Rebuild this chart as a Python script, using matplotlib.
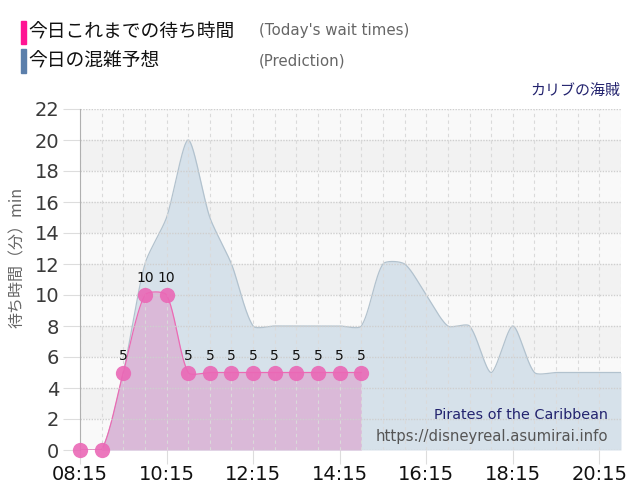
import numpy as np
import matplotlib
matplotlib.use("Agg")
import matplotlib.pyplot as plt

# ---------------- data ----------------
times = ["08:15", "08:45", "09:15", "09:45", "10:15", "10:45", "11:15", "11:45",
         "12:15", "12:45", "13:15", "13:45", "14:15", "14:45", "15:15", "15:45",
         "16:15", "16:45", "17:15", "17:45", "18:15", "18:45", "19:15", "19:45",
         "20:15", "20:45"]
predicted = [0, 0, 5, 12, 15, 20, 15, 12, 8, 8, 8, 8, 8, 8, 12, 12,
             10, 8, 8, 5, 8, 5, 5, 5, 5, 5]
actual = [0, 0, 5, 10, 10, 5, 5, 5, 5, 5, 5, 5, 5, 5]
tick_labels = ["08:15", "10:15", "12:15", "14:15", "16:15", "18:15", "20:15"]
y_ticks = [0, 2, 4, 6, 8, 10, 12, 14, 16, 18, 20, 22]

legend_jp = ["今日これまでの待ち時間", "今日の混雑予想"]
legend_en = ["(Today's wait times)", "(Prediction)"]
attraction_jp = "カリブの海賊"
attraction_en = "Pirates of the Caribbean"
site_url = "https://disneyreal.asumirai.info"
y_label = "待ち時間（分）min"


def to_hours(s):
    h, m = s.split(":")
    return int(h) + int(m) / 60.0


x_all = np.array([to_hours(t) for t in times])
x_act = x_all[:len(actual)]
x_ticks = [to_hours(t) for t in tick_labels]

JP = ["Noto Sans CJK JP", "DejaVu Sans"]
plt.rcParams["font.family"] = ["DejaVu Sans", "Noto Sans CJK JP"]

fig = plt.figure(figsize=(6.4, 5.0), dpi=100)
fig.patch.set_facecolor("white")
ax = fig.add_axes([80 / 640, 50 / 500, 541 / 640, 341 / 500])
xmin, xmax = x_all[0], x_all[-1]
ymin, ymax = y_ticks[0], y_ticks[-1]
ax.set_xlim(xmin, xmax)
ax.set_ylim(ymin, ymax)


def chartjs_spline(xs, ys, tension=0.25, n=30):
    pts = ax.transData.transform(np.column_stack([xs, ys]))
    lo = ax.transData.transform((xmin, ymin))
    hi = ax.transData.transform((xmax, ymax))
    N = len(pts)
    pc = np.zeros_like(pts)
    nc = np.zeros_like(pts)
    for i in range(N):
        p = pts[i]
        a = pts[i - 1] if i > 0 else p
        b = pts[i + 1] if i < N - 1 else p
        d01 = np.hypot(*(p - a))
        d12 = np.hypot(*(b - p))
        tot = d01 + d12
        s01 = d01 / tot if tot > 0 else 0.0
        s12 = d12 / tot if tot > 0 else 0.0
        pc[i] = p - tension * s01 * (b - a)
        nc[i] = p + tension * s12 * (b - a)
    for c in (pc, nc):
        c[:, 0] = np.clip(c[:, 0], lo[0], hi[0])
        c[:, 1] = np.clip(c[:, 1], lo[1], hi[1])
    t = np.linspace(0, 1, n)[:, None]
    segs = []
    for i in range(N - 1):
        P0, P1, P2, P3 = pts[i], nc[i], pc[i + 1], pts[i + 1]
        seg = ((1 - t) ** 3) * P0 + 3 * ((1 - t) ** 2) * t * P1 + 3 * (1 - t) * t ** 2 * P2 + t ** 3 * P3
        segs.append(seg if i == 0 else seg[1:])
    curve = np.vstack(segs)
    data = ax.transData.inverted().transform(curve)
    return data[:, 0], data[:, 1]


# background bands
for i in range(len(y_ticks) - 1):
    col = "#f9f9f9" if (len(y_ticks) - 2 - i) % 2 == 0 else "#f2f2f2"
    ax.axhspan(y_ticks[i], y_ticks[i + 1], color=col, lw=0, zorder=0)

# prediction area
px, py = chartjs_spline(x_all, predicted)
ax.fill_between(px, py, 0, color="#d6e1ea", lw=0, zorder=1)
ax.plot(px, py, color="#b2c2ce", lw=0.9, zorder=2)

# actual area
axx, ayy = chartjs_spline(x_act, actual)
ax.fill_between(axx, ayy, 0, color="#dbb7d7", alpha=0.95, lw=0, zorder=3)
ax.plot(axx, ayy, color="#ec6ab4", lw=0.9, zorder=4)

# grid
for yv in y_ticks:
    ax.axhline(yv, color="#cfcfcf", lw=1.0, ls=(0, (1, 1)), zorder=5)
xv = xmin
while xv <= xmax + 1e-9:
    ax.axvline(xv, color="#dadada", lw=0.8, ls=(0, (3, 3)), zorder=5)
    xv += 0.5

# points and labels
ax.plot(x_act, actual, "o", ms=11, color="#ea68b6", alpha=0.9, mec="none", zorder=7,
        clip_on=False)
for xv, v in zip(x_act, actual):
    if v > 0:
        ax.annotate(str(v), (xv, v), xytext=(0, 12), textcoords="offset points",
                    ha="center", va="center", fontsize=10, color="#111111", zorder=8,
                    annotation_clip=False)

# axes styling
for s in ("top", "right", "bottom"):
    ax.spines[s].set_visible(False)
ax.spines["left"].set_color("#b0b0b0")
ax.spines["left"].set_zorder(6)
ax.set_yticks(y_ticks)
ax.set_yticklabels([str(v) for v in y_ticks])
ax.set_xticks(x_ticks)
ax.set_xticklabels(tick_labels)
ax.tick_params(axis="y", length=12, color="#dddddd", labelsize=14, labelcolor="#3a3a3a", pad=3)
ax.tick_params(axis="x", length=10, color="#dddddd", labelsize=14, labelcolor="#111111", pad=1)

fig.text(17 / 640, 1 - 257 / 500, y_label, rotation=90, ha="center", va="center",
         fontsize=11.5, color="#666666", family=JP)

# legend
fig.patches.append(plt.Rectangle((21 / 640, 1 - 43.5 / 500), 4.5 / 640, 22 / 500,
                                 transform=fig.transFigure, color="#ff1493", figure=fig))
fig.patches.append(plt.Rectangle((21 / 640, 1 - 73 / 500), 4.5 / 640, 24 / 500,
                                 transform=fig.transFigure, color="#5b7fab", figure=fig))
fig.text(28 / 640, 1 - 32 / 500, legend_jp[0], ha="left", va="center", fontsize=13.5,
         color="#111111", family=JP)
fig.text(28 / 640, 1 - 61 / 500, legend_jp[1], ha="left", va="center", fontsize=13.5,
         color="#111111", family=JP)
fig.text(259 / 640, 1 - 31 / 500, legend_en[0], ha="left", va="center", fontsize=10.8,
         color="#666666")
fig.text(259 / 640, 1 - 61 / 500, legend_en[1], ha="left", va="center", fontsize=10.8,
         color="#666666")

fig.text(620 / 640, 1 - 91 / 500, attraction_jp, ha="right", va="center", fontsize=10.8,
         color="#23236e", family=JP)
fig.text(608 / 640, 1 - 415 / 500, attraction_en, ha="right", va="center", fontsize=10.4,
         color="#23236e", zorder=10)
fig.text(608 / 640, 1 - 436 / 500, site_url, ha="right", va="center", fontsize=10.7,
         color="#555555", zorder=10)

fig.savefig("out.png", dpi=100, facecolor="white")
